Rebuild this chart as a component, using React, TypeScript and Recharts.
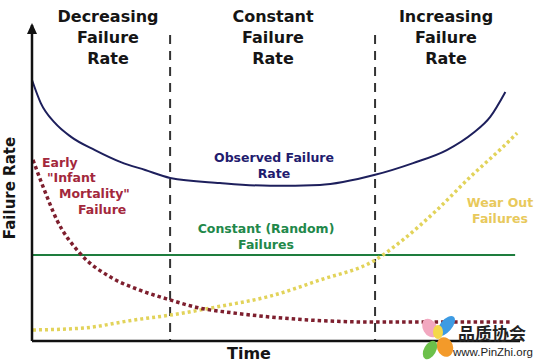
import { ComposedChart, Line, XAxis, YAxis, ReferenceLine, ReferenceDot } from "recharts";

// x = time (0..100), y = failure rate (0..100)
const observedRate = [
  { x: 0, y: 82.6 },
  { x: 1.8, y: 75.3 },
  { x: 4.7, y: 69.0 },
  { x: 8.0, y: 64.6 },
  { x: 12.9, y: 60.4 },
  { x: 18.2, y: 56.6 },
  { x: 23.2, y: 54.1 },
  { x: 28.3, y: 51.6 },
  { x: 38.5, y: 50.0 },
  { x: 48.8, y: 49.1 },
  { x: 59.0, y: 49.4 },
  { x: 70.3, y: 52.6 },
  { x: 78.1, y: 56.3 },
  { x: 85.0, y: 60.4 },
  { x: 90.4, y: 65.8 },
  { x: 93.9, y: 70.9 },
  { x: 97.0, y: 78.8 },
];

const infantMortality = [
  { x: 0.2, y: 57.3 },
  { x: 2.3, y: 48.7 },
  { x: 5.1, y: 38.3 },
  { x: 9.8, y: 27.8 },
  { x: 16.0, y: 20.3 },
  { x: 22.1, y: 16.1 },
  { x: 28.3, y: 13.0 },
  { x: 34.4, y: 10.4 },
  { x: 41.2, y: 8.9 },
  { x: 48.8, y: 7.6 },
  { x: 70.3, y: 6.0 },
  { x: 98.0, y: 6.0 },
];

const wearOut = [
  { x: 0.2, y: 3.5 },
  { x: 10.5, y: 4.1 },
  { x: 20.7, y: 6.6 },
  { x: 28.3, y: 8.2 },
  { x: 37.9, y: 10.8 },
  { x: 48.8, y: 14.2 },
  { x: 59.0, y: 19.3 },
  { x: 70.3, y: 25.6 },
  { x: 76.0, y: 32.0 },
  { x: 83.0, y: 41.5 },
  { x: 89.8, y: 51.9 },
  { x: 96.5, y: 61.4 },
  { x: 99.4, y: 65.8 },
];

const randomFailures = [
  { x: 0, y: 27.2 },
  { x: 99, y: 27.2 },
];

const phaseBounds = [28.3, 70.3];
const phaseTitles = [
  ["Decreasing", "Failure", "Rate"],
  ["Constant", "Failure", "Rate"],
  ["Increasing", "Failure", "Rate"],
];

const font = "'DejaVu Sans', Verdana, sans-serif";

const Arrow = ({ cx, cy }: any) => (
  <polygon points={`${cx},${cy - 2} ${cx - 5},${cy + 9} ${cx + 5},${cy + 9}`} fill="#111" />
);

function Txt({ x, y, size, color, children, align = "center" }: any) {
  return (
    <div
      style={{
        position: "absolute",
        left: x,
        top: y,
        transform: align === "center" ? "translateX(-50%)" : undefined,
        fontFamily: font,
        fontWeight: "bold",
        fontSize: size,
        lineHeight: size === 16 ? "21px" : "16px",
        color,
        textAlign: "center",
        whiteSpace: "nowrap",
      }}
    >
      {children}
    </div>
  );
}

export default function App() {
  const titleX = [108, 273, 446];
  return (
    <div style={{ position: "relative", width: 540, height: 363, background: "#fff", overflow: "hidden" }}>
      <style>{"body{margin:0}"}</style>
      <ComposedChart width={540} height={363} margin={{ top: 25, right: 20, left: 0, bottom: 0 }}>
        <XAxis
          type="number"
          dataKey="x"
          domain={[0, 100]}
          height={22}
          tick={false}
          tickLine={false}
          axisLine={{ stroke: "#111", strokeWidth: 2.5 }}
        />
        <YAxis
          type="number"
          dataKey="y"
          domain={[0, 100]}
          width={32}
          tick={false}
          tickLine={false}
          axisLine={{ stroke: "#111", strokeWidth: 2.5 }}
        />
        {phaseBounds.map((b) => (
          <ReferenceLine
            key={b}
            segment={[{ x: b, y: 96.8 }, { x: b, y: 0 }]}
            stroke="#333"
            strokeWidth={2}
            strokeDasharray="9 7"
          />
        ))}
        <Line
          data={randomFailures}
          dataKey="y"
          stroke="#1e7d3e"
          strokeWidth={2}
          dot={false}
          isAnimationActive={false}
        />
        <Line
          data={wearOut}
          dataKey="y"
          type="monotone"
          stroke="#e2d35a"
          strokeWidth={3.5}
          strokeDasharray="3 3"
          dot={false}
          isAnimationActive={false}
        />
        <Line
          data={infantMortality}
          dataKey="y"
          type="monotone"
          stroke="#7e1f2e"
          strokeWidth={3.5}
          strokeDasharray="3.5 3"
          dot={false}
          isAnimationActive={false}
        />
        <Line
          data={observedRate}
          dataKey="y"
          type="monotone"
          stroke="#1d1f5c"
          strokeWidth={2}
          dot={false}
          isAnimationActive={false}
        />
        <ReferenceDot x={0} y={100} r={0} shape={Arrow} ifOverflow="visible" />
      </ComposedChart>

      {phaseTitles.map((lines, i) => (
        <Txt key={i} x={titleX[i]} y={6} size={16} color="#151515">
          {lines.map((l) => (
            <div key={l}>{l}</div>
          ))}
        </Txt>
      ))}

      <div
        style={{
          position: "absolute",
          left: 10,
          top: 188,
          transform: "translate(-50%, -50%) rotate(-90deg)",
          fontFamily: font,
          fontWeight: "bold",
          fontSize: 15,
          color: "#151515",
          whiteSpace: "nowrap",
        }}
      >
        Failure Rate
      </div>
      <Txt x={249} y={343} size={16} color="#151515">Time</Txt>

      <Txt x={42} y={155} size={12.5} color="#a3283c" align="left">Early</Txt>
      <Txt x={47} y={170} size={12.5} color="#a3283c" align="left">"Infant</Txt>
      <Txt x={59} y={186} size={12.5} color="#a3283c" align="left">Mortality"</Txt>
      <Txt x={78} y={202} size={12.5} color="#a3283c" align="left">Failure</Txt>

      <Txt x={274} y={150} size={12.5} color="#1f1c6e">
        <div>Observed Failure</div>
        <div>Rate</div>
      </Txt>
      <Txt x={266} y={221} size={12.5} color="#22884a">
        <div>Constant (Random)</div>
        <div>Failures</div>
      </Txt>
      <Txt x={500} y={195} size={12.5} color="#e8c95c">
        <div>Wear Out</div>
        <div>Failures</div>
      </Txt>

      {/* watermark */}
      <svg style={{ position: "absolute", left: 418, top: 314 }} width={40} height={49}>
        <ellipse cx={12} cy={14} rx={7} ry={10} fill="#f2a8c0" transform="rotate(-30 12 14)" />
        <ellipse cx={28} cy={12} rx={6} ry={12} fill="#3d9be3" transform="rotate(40 28 12)" />
        <ellipse cx={20} cy={18} rx={5} ry={7} fill="#f4d84a" />
        <ellipse cx={27} cy={33} rx={8} ry={10} fill="#f39a2a" transform="rotate(-20 27 33)" />
        <ellipse cx={12} cy={36} rx={6} ry={10} fill="#6cc04a" transform="rotate(30 12 36)" />
      </svg>
      <div
        style={{
          position: "absolute",
          left: 458,
          top: 323,
          fontFamily: "'Noto Sans CJK SC', sans-serif",
          fontWeight: "bold",
          fontSize: 17,
          lineHeight: "20px",
          color: "#222",
          whiteSpace: "nowrap",
        }}
      >
        品质协会
      </div>
      <div
        style={{
          position: "absolute",
          left: 453,
          top: 345,
          fontFamily: "'Liberation Sans', Arial, sans-serif",
          fontSize: 11.5,
          lineHeight: "14px",
          color: "#222",
          whiteSpace: "nowrap",
        }}
      >
        www.PinZhi.org
      </div>
    </div>
  );
}
